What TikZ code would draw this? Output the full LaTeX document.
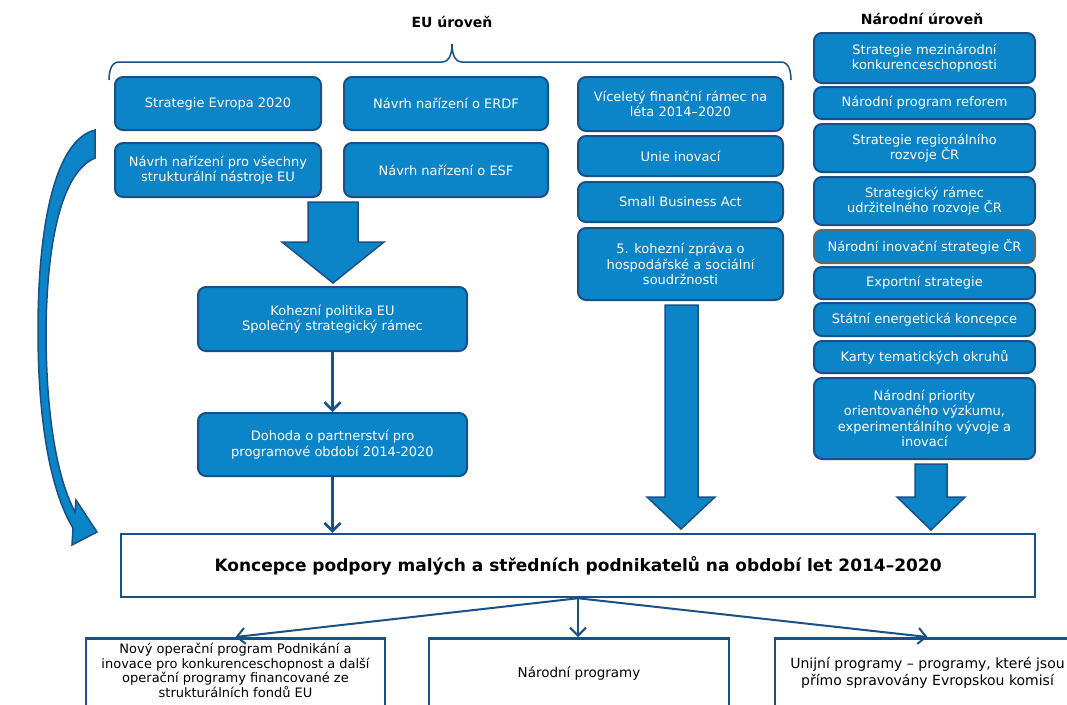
\documentclass[tikz,border=0pt]{standalone}
\usepackage{fontspec}
\setmainfont{DejaVu Sans}
\usepackage{xcolor}
\usetikzlibrary{arrows.meta}
\definecolor{boxblue}{RGB}{12,132,200}
\definecolor{boxline}{RGB}{24,80,135}

\begin{document}
\begin{tikzpicture}[x=1pt,y=-1pt,
            box/.style={shape=rectangle, draw=boxline, line width=2pt, fill=boxblue, rounded corners=8pt,
                        text=white, align=center, inner sep=2pt, font=\fontsize{13}{15.5}\selectfont},
            wbox/.style={shape=rectangle, draw=boxline, line width=2.5pt, fill=white, align=center,
                         inner sep=2pt, font=\fontsize{13.5}{16.5}\selectfont},
            bigarrow/.style={fill=boxblue, draw=boxline, line width=1.5pt, line join=miter},
            link/.style={draw=boxline, line width=2.5pt, -{Straight Barb[length=8pt,width=16pt]}}]
        \path[use as bounding box, clip] (0,0) rectangle (1067,704);

        \node[font=\bfseries\fontsize{14}{16}\selectfont] (eu) at (452,22) {EU úroveň};
        \node[font=\bfseries\fontsize{14}{16}\selectfont] (narodni) at (922,19) {Národní úroveň};
        \draw[boxline, line width=1.5pt] (109,80) to[out=90,in=180] (119,62) -- (442,62)
            to[out=0,in=-90] (452,44) to[out=-90,in=180] (462,62) -- (781,62) to[out=0,in=90] (791,80);

        % EU level
        \node[box, minimum width=206, minimum height=53] (evropa) at (218,103.5) {Strategie Evropa 2020};
        \node[box, minimum width=206, minimum height=54] (vsechny) at (218,170) {Návrh nařízení pro všechny\\strukturální nástroje EU};
        \node[box, minimum width=204, minimum height=53] (erdf) at (446,103.5) {Návrh nařízení o ERDF};
        \node[box, minimum width=204, minimum height=54] (esf) at (446,170) {Návrh nařízení o ESF};
        \node[box, minimum width=205, minimum height=54] (vfr) at (680.5,104) {Víceletý finanční rámec na\\léta 2014–2020};
        \node[box, minimum width=205, minimum height=40] (unie) at (680.5,156) {Unie inovací};
        \node[box, minimum width=205, minimum height=40] (sba) at (680.5,202) {Small Business Act};
        \node[box, minimum width=205, minimum height=72] (zprava) at (680.5,264) {5. kohezní zpráva o\\hospodářské a sociální\\soudržnosti};

        % national level
        \node[box, minimum width=221, minimum height=50] (smk) at (924.5,58) {Strategie mezinárodní\\konkurenceschopnosti};
        \node[box, minimum width=221, minimum height=32] (npr) at (924.5,103) {Národní program reforem};
        \node[box, minimum width=221, minimum height=48] (srr) at (924.5,148) {Strategie regionálního\\rozvoje ČR};
        \node[box, minimum width=221, minimum height=48] (sru) at (924.5,201) {Strategický rámec\\udržitelného rozvoje ČR};
        \node[box, draw=gray!80!black, minimum width=221, minimum height=33] (nis) at (924.5,246.5) {Národní inovační strategie ČR};
        \node[box, minimum width=221, minimum height=32] (export) at (924.5,283) {Exportní strategie};
        \node[box, minimum width=221, minimum height=33] (sek) at (924.5,319.5) {Státní energetická koncepce};
        \node[box, minimum width=221, minimum height=32] (karty) at (924.5,357) {Karty tematických okruhů};
        \node[box, minimum width=221, minimum height=81] (priority) at (924.5,418.5) {Národní priority\\orientovaného výzkumu,\\experimentálního vývoje a\\inovací};

        \node[box, minimum width=269, minimum height=64] (kohez) at (332.5,319) {Kohezní politika EU\\Společný strategický rámec};
        \node[box, minimum width=269, minimum height=63] (dohoda) at (332.5,444.5) {Dohoda o partnerství pro\\programové období 2014-2020};

        \node[wbox, minimum width=914, minimum height=63, font=\bfseries\fontsize{17}{20}\selectfont] (koncepce) at (578,565.5)
            {Koncepce podpory malých a středních podnikatelů na období let 2014–2020};

        \node[wbox, anchor=north, minimum width=299, minimum height=70, text depth=6pt,
              font=\fontsize{13}{14.5}\selectfont] (nop) at (235.5,637)
            {Nový operační program Podnikání a\\inovace pro konkurenceschopnost a další\\operační programy financované ze\\strukturálních fondů EU};
        \node[wbox, anchor=north, minimum width=300, minimum height=70] (narprog) at (579,637) {Národní programy};
        \node[wbox, anchor=north, minimum width=305, minimum height=70, font=\fontsize{14}{17}\selectfont] (unijni) at (927.5,637)
            {Unijní programy – programy, které jsou\\přímo spravovány Evropskou komisí};

        % block arrows
        \draw[bigarrow] (308,202) -- (358,202) -- (358,242) -- (384,242) -- (333,283) -- (282,242) -- (308,242) -- cycle;
        \draw[bigarrow] (665,305) -- (698,305) -- (698,497) -- (715,497) -- (681,529) -- (647,497) -- (665,497) -- cycle;
        \draw[bigarrow] (915,464) -- (947,464) -- (947,497) -- (965,497) -- (931,530) -- (897,497) -- (915,497) -- cycle;
        \draw[bigarrow] (95,130) -- (95,158) .. controls (62,172) and (47,240) .. (46,330)
            .. controls (46,420) and (58,480) .. (75,512) -- (76,500) -- (97,532) -- (72,545) -- (73,528)
            .. controls (50,490) and (38,420) .. (38,330) .. controls (38,225) and (55,140) .. (95,130) -- cycle;

        \draw[link] (kohez) -- (dohoda);
        \draw[link] (dohoda) -- (dohoda |- koncepce.north);
        \draw[link, line width=2pt] (koncepce.south) -- (nop.north);
        \draw[link, line width=2pt] (koncepce.south) -- (narprog.north -| koncepce.south);
        \draw[link, line width=2pt] (koncepce.south) -- (unijni.north);
\end{tikzpicture}
\end{document}
